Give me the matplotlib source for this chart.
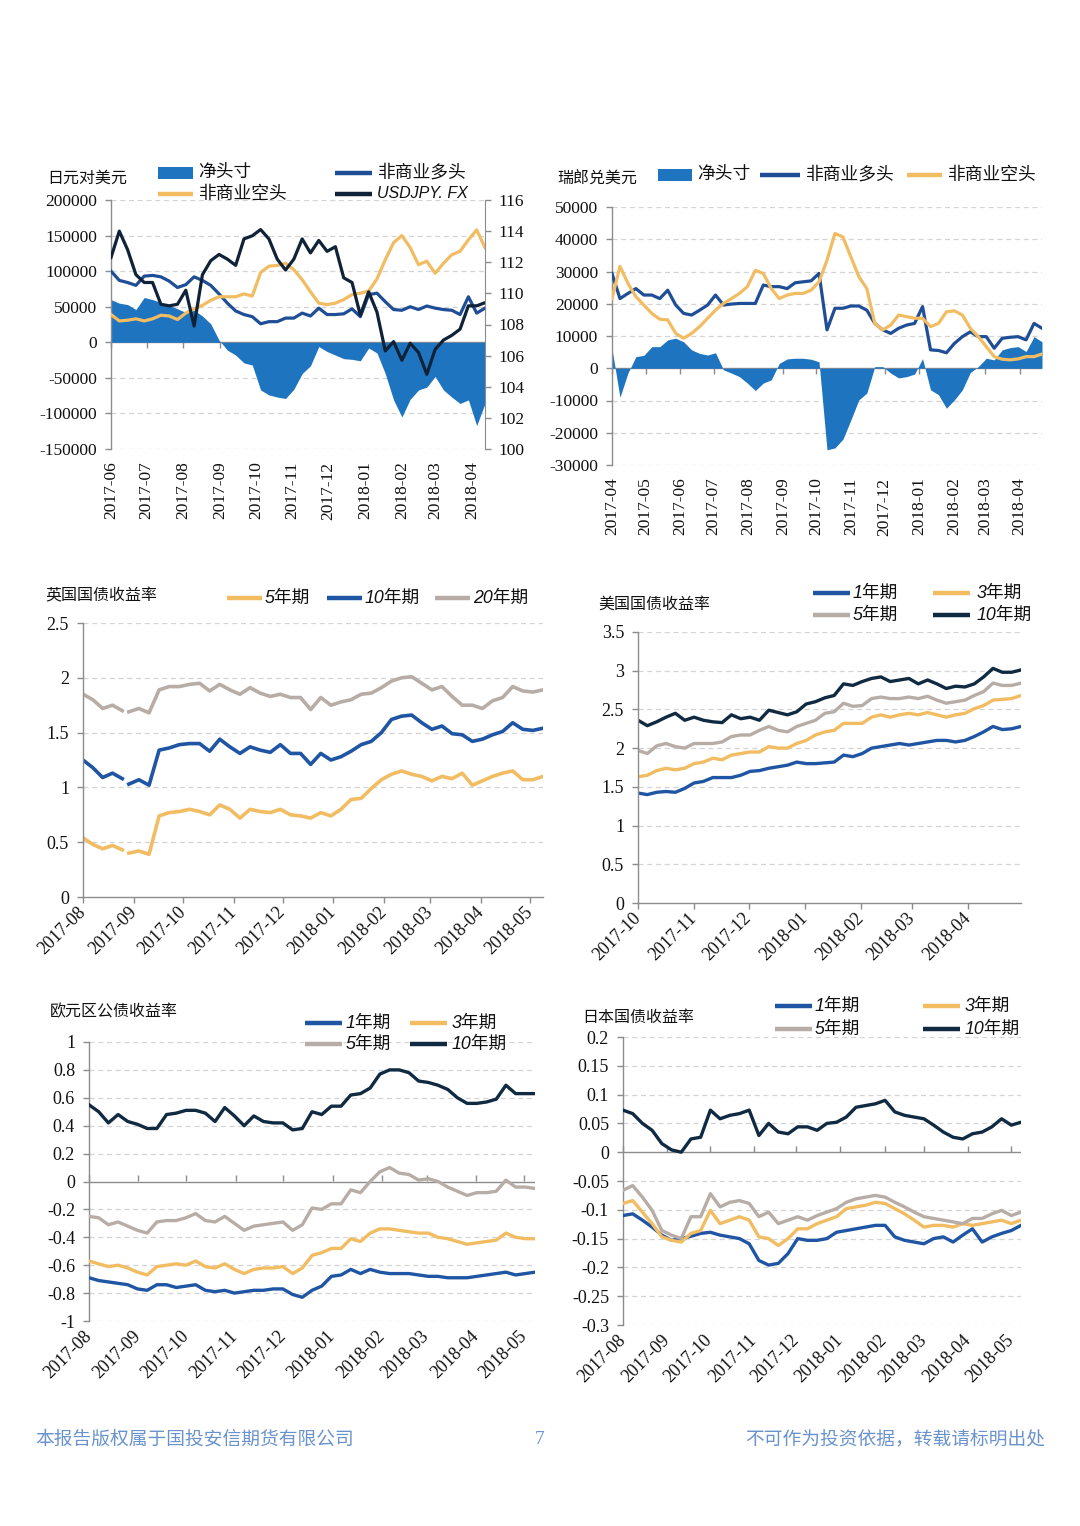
import numpy as np
import pandas as pd
import matplotlib
matplotlib.use('Agg')
import matplotlib.pyplot as plt
import matplotlib.dates as mdates
from matplotlib.lines import Line2D
from matplotlib.patches import Rectangle

nan = np.nan

# ---------------- data ----------------
# 日元对美元 (weekly, CFTC)
jpy_net = [60000, 55000, 53000, 46000, 63000, 60000, 56000, 52000, 47000, 42000,
           45000, 37000, 26000, 3000, -11000, -18000, -29000, -32000, -67000, -74000,
           -77000, -79000, -66000, -44000, -33000, -6000, -13000, -18000, -23000, -24000,
           -26000, -8000, -15000, -44000, -81000, -105000, -80000, -67000, -63000, -48000,
           -67000, -77000, -86000, -81000, -117000, -86000]
jpy_long = [100000, 87000, 84000, 80000, 93000, 94000, 92000, 86000, 77000, 81000,
            92000, 87000, 80000, 68000, 55000, 44000, 39000, 36000, 26000, 29000,
            29000, 34000, 34000, 41000, 37000, 48000, 39000, 39000, 40000, 47000,
            36000, 67000, 69000, 57000, 46000, 45000, 50000, 46000, 51000, 48000,
            46000, 45000, 39000, 64000, 41000, 48000]
jpy_short = [39000, 30000, 31000, 33000, 30000, 33000, 38000, 37000, 32000, 41000,
             47000, 52000, 59000, 64000, 64000, 64000, 68000, 65000, 98000, 107000,
             108000, 111000, 102000, 88000, 71000, 55000, 53000, 55000, 60000, 67000,
             69000, 72000, 89000, 116000, 140000, 150000, 133000, 109000, 114000, 97000,
             111000, 123000, 128000, 144000, 158000, 133000]
usdjpy = [112.3, 114.0, 112.8, 111.2, 110.7, 110.7, 109.3, 109.2, 109.3, 110.2,
          107.9, 111.2, 112.1, 112.5, 112.2, 111.8, 113.5, 113.7, 114.1, 113.5,
          112.2, 111.5, 112.2, 113.5, 112.6, 113.4, 112.7, 113.0, 111.0, 110.7,
          108.6, 110.1, 108.8, 106.3, 106.9, 105.7, 106.8, 106.2, 104.8, 106.4,
          107.0, 107.3, 107.7, 109.2, 109.2, 109.4]

# 瑞郎兑美元 (weekly, CFTC)
chf_net = [6000, -9000, -1500, 3600, 4000, 6700, 6700, 8800, 9300, 8200,
           5700, 4600, 4100, 4800, -500, -1500, -2600, -4600, -6900, -4600,
           -3600, 1500, 2900, 3100, 3100, 2800, 2000, -25300, -24700, -22000,
           -16000, -9800, -7700, 500, 500, -1500, -3000, -2600, -1800, 3000,
           -6700, -8200, -12400, -9800, -6700, -1300, 500, 3100, 2600, 5700,
           6400, 6700, 5200, 9800, 8200]
chf_long = [29400, 21600, 23200, 24700, 22700, 22700, 21600, 24200, 19600, 17000,
            16500, 18000, 19600, 22700, 19600, 19900, 20100, 20100, 20100, 25800,
            25300, 25300, 24700, 26500, 26800, 27100, 29400, 11900, 18600, 18600,
            19300, 19300, 18000, 13900, 11900, 10800, 12400, 13400, 13900, 19100,
            5700, 5500, 4800, 7700, 9800, 11300, 9800, 9800, 6200, 9300,
            9600, 9800, 8800, 13900, 12400]
chf_short = [21600, 31600, 26300, 22200, 19600, 17000, 15200, 15000, 10800, 9300,
             10800, 12900, 15500, 18000, 20100, 21600, 23200, 25300, 30400, 29400,
             24700, 21600, 22700, 23200, 23200, 24200, 26800, 33500, 41800, 40700,
             34500, 28400, 24700, 13900, 11900, 13400, 16500, 16000, 15500, 15500,
             12900, 13900, 17500, 17800, 16500, 12400, 9800, 6700, 3600, 2800,
             2600, 2900, 3600, 3600, 4400]

# 英国国债收益率 (nan = missing day)
uk_5y = [0.54, 0.48, 0.44, 0.47, 0.43, nan,
         0.40, 0.42, 0.39, 0.74, 0.77, 0.78, 0.80, 0.78, 0.75, 0.84,
         0.80, 0.72, 0.80, 0.78, 0.77, 0.80, 0.75, 0.74, 0.72, 0.77,
         0.74, 0.80, 0.89, 0.90, 0.99, 1.07, 1.12, 1.15, 1.12, 1.10,
         1.06, 1.10, 1.08, 1.13, 1.02, 1.06, 1.10, 1.13, 1.15, 1.07,
         1.07, 1.10]
uk_10y = [1.25, 1.18, 1.09, 1.13, 1.08, nan,
          1.03, 1.07, 1.02, 1.34, 1.36, 1.39, 1.40, 1.40, 1.33, 1.44,
          1.37, 1.31, 1.37, 1.34, 1.32, 1.39, 1.31, 1.31, 1.21, 1.31,
          1.25, 1.28, 1.33, 1.39, 1.42, 1.50, 1.62, 1.65, 1.66, 1.59,
          1.53, 1.56, 1.49, 1.48, 1.42, 1.44, 1.48, 1.51, 1.59, 1.53,
          1.52, 1.54]
uk_20y = [1.85, 1.80, 1.72, 1.75, 1.70, nan,
          1.69, 1.72, 1.68, 1.89, 1.92, 1.92, 1.94, 1.95, 1.88, 1.94,
          1.89, 1.85, 1.91, 1.86, 1.83, 1.85, 1.82, 1.82, 1.71, 1.82,
          1.75, 1.78, 1.80, 1.85, 1.86, 1.91, 1.97, 2.00, 2.01, 1.95,
          1.89, 1.92, 1.83, 1.75, 1.75, 1.72, 1.79, 1.82, 1.92, 1.88,
          1.87, 1.89]

# 美国国债收益率
us_1y = [1.42, 1.40, 1.43, 1.44, 1.43, 1.48, 1.55, 1.57, 1.62, 1.62,
         1.62, 1.65, 1.70, 1.71, 1.74, 1.76, 1.78, 1.82, 1.80, 1.80,
         1.81, 1.82, 1.91, 1.89, 1.93, 2.00, 2.02, 2.04, 2.06, 2.04,
         2.06, 2.08, 2.10, 2.10, 2.08, 2.10, 2.15, 2.21, 2.28, 2.24,
         2.25, 2.28]
us_3y = [1.63, 1.65, 1.71, 1.74, 1.72, 1.74, 1.80, 1.82, 1.87, 1.85,
         1.91, 1.93, 1.95, 1.95, 2.02, 2.00, 2.00, 2.06, 2.10, 2.17,
         2.21, 2.23, 2.32, 2.32, 2.32, 2.40, 2.43, 2.40, 2.43, 2.45,
         2.43, 2.46, 2.43, 2.40, 2.43, 2.45, 2.51, 2.55, 2.62, 2.63,
         2.64, 2.68]
us_5y = [1.97, 1.93, 2.03, 2.06, 2.02, 2.00, 2.06, 2.06, 2.06, 2.08,
         2.15, 2.17, 2.17, 2.23, 2.28, 2.23, 2.21, 2.28, 2.32, 2.36,
         2.45, 2.47, 2.58, 2.54, 2.55, 2.64, 2.66, 2.64, 2.64, 2.66,
         2.64, 2.67, 2.62, 2.58, 2.60, 2.62, 2.68, 2.73, 2.84, 2.81,
         2.81, 2.84]
us_10y = [2.36, 2.29, 2.34, 2.40, 2.45, 2.36, 2.40, 2.36, 2.34, 2.33,
          2.43, 2.38, 2.40, 2.36, 2.49, 2.46, 2.43, 2.47, 2.57, 2.60,
          2.65, 2.68, 2.83, 2.81, 2.86, 2.90, 2.92, 2.86, 2.88, 2.90,
          2.83, 2.88, 2.83, 2.77, 2.80, 2.79, 2.83, 2.92, 3.03, 2.98,
          2.98, 3.01]

# 欧元区公债收益率
eu_1y = [-0.69, -0.71, -0.72, -0.73, -0.74, -0.77, -0.78, -0.74, -0.74, -0.76,
         -0.75, -0.74, -0.78, -0.79, -0.78, -0.80, -0.79, -0.78, -0.78, -0.77,
         -0.77, -0.81, -0.83, -0.78, -0.75, -0.68, -0.67, -0.63, -0.66, -0.63,
         -0.65, -0.66, -0.66, -0.66, -0.67, -0.68, -0.68, -0.69, -0.69, -0.69,
         -0.68, -0.67, -0.66, -0.65, -0.67, -0.66, -0.65]
eu_3y = [-0.57, -0.59, -0.61, -0.60, -0.62, -0.65, -0.67, -0.61, -0.60, -0.59,
         -0.60, -0.57, -0.61, -0.62, -0.59, -0.63, -0.66, -0.63, -0.62, -0.62,
         -0.61, -0.66, -0.62, -0.53, -0.51, -0.48, -0.48, -0.41, -0.43, -0.37,
         -0.34, -0.34, -0.35, -0.36, -0.37, -0.37, -0.40, -0.41, -0.43, -0.45,
         -0.44, -0.43, -0.42, -0.37, -0.40, -0.41, -0.41]
eu_5y = [-0.25, -0.26, -0.31, -0.29, -0.32, -0.35, -0.37, -0.29, -0.28, -0.28,
         -0.26, -0.23, -0.28, -0.29, -0.25, -0.30, -0.35, -0.32, -0.31, -0.30,
         -0.29, -0.35, -0.31, -0.19, -0.20, -0.16, -0.16, -0.06, -0.08, 0.00,
         0.07, 0.10, 0.06, 0.05, 0.01, 0.02, 0.00, -0.04, -0.07, -0.10,
         -0.08, -0.08, -0.07, 0.01, -0.04, -0.04, -0.05]
eu_10y = [0.55, 0.50, 0.42, 0.48, 0.43, 0.41, 0.38, 0.38, 0.48, 0.49,
          0.51, 0.51, 0.49, 0.43, 0.53, 0.47, 0.40, 0.47, 0.43, 0.42,
          0.42, 0.37, 0.38, 0.50, 0.48, 0.54, 0.54, 0.62, 0.63, 0.67,
          0.77, 0.80, 0.80, 0.78, 0.72, 0.71, 0.69, 0.66, 0.60, 0.56,
          0.56, 0.57, 0.59, 0.69, 0.63, 0.63, 0.63]

# 日本国债收益率
jp_1y = [-0.110, -0.107, -0.118, -0.130, -0.144, -0.153, -0.150, -0.146, -0.141, -0.139,
         -0.144, -0.147, -0.150, -0.159, -0.188, -0.196, -0.193, -0.176, -0.150, -0.153,
         -0.153, -0.150, -0.139, -0.136, -0.133, -0.130, -0.127, -0.127, -0.147, -0.153,
         -0.156, -0.159, -0.150, -0.147, -0.156, -0.144, -0.133, -0.156, -0.147, -0.141,
         -0.136, -0.127]
jp_3y = [-0.089, -0.084, -0.104, -0.124, -0.147, -0.153, -0.156, -0.141, -0.136, -0.101,
         -0.124, -0.118, -0.112, -0.118, -0.147, -0.150, -0.162, -0.150, -0.133, -0.133,
         -0.124, -0.118, -0.112, -0.098, -0.095, -0.092, -0.087, -0.089, -0.098, -0.107,
         -0.118, -0.130, -0.127, -0.127, -0.130, -0.124, -0.127, -0.124, -0.121, -0.118,
         -0.124, -0.118]
jp_5y = [-0.066, -0.058, -0.078, -0.101, -0.136, -0.144, -0.150, -0.112, -0.112, -0.072,
         -0.095, -0.087, -0.084, -0.089, -0.112, -0.104, -0.124, -0.118, -0.112, -0.118,
         -0.110, -0.104, -0.098, -0.087, -0.081, -0.078, -0.075, -0.078, -0.087, -0.095,
         -0.104, -0.112, -0.115, -0.118, -0.121, -0.124, -0.115, -0.115, -0.107, -0.101,
         -0.110, -0.104]
jp_10y = [0.073, 0.067, 0.050, 0.038, 0.015, 0.004, 0.000, 0.023, 0.026, 0.073,
          0.058, 0.064, 0.067, 0.073, 0.029, 0.050, 0.035, 0.032, 0.044, 0.044,
          0.038, 0.050, 0.052, 0.061, 0.078, 0.081, 0.084, 0.090, 0.070, 0.064,
          0.061, 0.058, 0.047, 0.035, 0.026, 0.023, 0.032, 0.035, 0.044, 0.058,
          0.047, 0.052]

# ---------------- style ----------------
C_NET = '#1F74C0'
C_LONG = '#1F4E96'
C_SHORT = '#F1BC62'
C_FX = '#0F2238'
C_1Y = '#1F55A2'
C_3Y = '#F1BC62'
C_5Y = '#B7ADA6'
C_10Y = '#102A42'
C_AX = '#8C8C8C'
C_GRID = '#D4D4D4'
C_TXT = '#111111'

SERIF = ['Liberation Serif', 'DejaVu Serif']
CJK = ['Noto Sans CJK SC', 'DejaVu Sans']
LEGF = ['Liberation Sans', 'Noto Sans CJK SC', 'DejaVu Sans']

plt.rcParams['font.family'] = SERIF
plt.rcParams['axes.unicode_minus'] = False

W, H = 1080, 1526
fig = plt.figure(figsize=(W / 100, H / 100), dpi=100)
fig.patch.set_facecolor('white')


def rect(x0, y0, x1, y1):
    return [x0 / W, 1 - y1 / H, (x1 - x0) / W, (y1 - y0) / H]


def fx(px):
    return px / W


def fy(py):
    return 1 - py / H


def dnum(idx):
    return mdates.date2num(pd.DatetimeIndex(idx).to_pydatetime())


def fmt(v):
    s = ('%.2f' % v).rstrip('0').rstrip('.')
    if s in ('-0', ''):
        s = '0'
    return s


def setup(ax, ylo, yhi, ystep, x0, x1, tick_dates, rot, fs, zero_ticks=True,
          bottom_spine=False, lpad=6):
    ax.set_xlim(x0, x1)
    ax.set_ylim(ylo, yhi)
    yt = np.round(np.arange(ylo, yhi + ystep / 2, ystep), 6)
    ax.set_yticks(yt)
    ax.set_yticklabels([fmt(v) for v in yt], fontsize=fs, color=C_TXT)
    for v in yt:
        if abs(v) < 1e-9 and (zero_ticks or bottom_spine):
            continue
        ax.axhline(v, color=C_GRID, lw=0.9, ls=(0, (4, 3)), zorder=0.5)
    for s in ('top', 'right'):
        ax.spines[s].set_visible(False)
    ax.spines['left'].set_color(C_AX)
    ax.spines['left'].set_linewidth(1.0)
    ax.tick_params(axis='y', length=4, width=1, color=C_AX, pad=lpad, direction='out')
    tn = dnum(tick_dates)
    ax.set_xticks(tn)
    ax.set_xticklabels([d.strftime('%Y-%m') for d in tick_dates], rotation=rot,
                       ha='right', va='center', rotation_mode='anchor',
                       fontsize=fs, color=C_TXT)
    if bottom_spine:
        ax.spines['bottom'].set_color(C_AX)
        ax.spines['bottom'].set_linewidth(1.0)
        ax.tick_params(axis='x', length=4, width=1, color=C_AX, pad=5)
    else:
        ax.spines['bottom'].set_visible(False)
        ax.tick_params(axis='x', length=0, pad=9)
        if zero_ticks:
            ax.axhline(0, color=C_AX, lw=1.0, zorder=1.5)
            frac = (0 - ylo) / (yhi - ylo)
            sec = ax.secondary_xaxis(frac)
            sec.set_xticks(tn)
            sec.set_xticklabels([''] * len(tn))
            sec.tick_params(length=4, width=1, color=C_AX)
            for s in sec.spines.values():
                s.set_visible(False)


def leg_line(x0, x1, y, color, lw=3.2):
    fig.add_artist(Line2D([fx(x0), fx(x1)], [fy(y), fy(y)], transform=fig.transFigure,
                          color=color, lw=lw, solid_capstyle='butt'))


def leg_patch(x0, x1, y, h, color):
    fig.add_artist(Rectangle((fx(x0), fy(y + h / 2)), (x1 - x0) / W, h / H,
                             transform=fig.transFigure, color=color, lw=0))


def leg_text(x, y, s, fs=12.8):
    fig.text(fx(x), fy(y), s, ha='left', va='center', fontfamily=LEGF, fontstyle='italic',
             fontsize=fs, color=C_TXT)


def title(x, y, s, fs=11.5):
    fig.text(fx(x), fy(y), s, ha='left', va='center', fontfamily=CJK, fontsize=fs,
             color=C_TXT)


# ---------------- panel 1: JPY ----------------
jd = pd.date_range('2017-06-06', periods=len(jpy_net), freq='7D')
jx = dnum(jd)
ax1 = fig.add_axes(rect(111, 200, 485, 449))
setup(ax1, -150000, 200000, 50000, jx[0], jx[-1],
      pd.date_range('2017-06-06', '2018-04-06', freq=pd.DateOffset(months=1)), 90, 12.5)
ax1.fill_between(jx, 0, jpy_net, color=C_NET, lw=0, zorder=2)
ax1.plot(jx, jpy_long, color=C_LONG, lw=2.3, zorder=3)
ax1.plot(jx, jpy_short, color=C_SHORT, lw=2.3, zorder=3)
ax1r = ax1.twinx()
ax1r.set_xlim(jx[0], jx[-1])
ax1r.set_ylim(100, 116)
ax1r.set_yticks(np.arange(100, 117, 2))
ax1r.set_yticklabels([str(v) for v in range(100, 117, 2)], fontsize=12.5, color=C_TXT)
for s in ('top', 'left', 'bottom'):
    ax1r.spines[s].set_visible(False)
ax1r.spines['right'].set_color(C_AX)
ax1r.tick_params(axis='y', length=4, width=1, color=C_AX, pad=6)
ax1r.plot(jx, usdjpy, color=C_FX, lw=2.3)

title(47, 178, '日元对美元')
leg_patch(158, 193, 173, 11, C_NET)
leg_text(198, 173, '净头寸')
leg_line(335, 372, 173, C_LONG)
leg_text(377, 173, '非商业多头')
leg_line(158, 193, 194, C_SHORT)
leg_text(198, 194, '非商业空头')
leg_line(335, 372, 194, C_FX)
leg_text(377, 194, 'USDJPY. FX', fs=11.5)

# ---------------- panel 2: CHF ----------------
cd = pd.date_range('2017-04-04', '2018-04-24', periods=len(chf_net))
cx = dnum(cd)
ax2 = fig.add_axes(rect(612, 207, 1042, 465))
setup(ax2, -30000, 50000, 10000, cx[0], cx[-1],
      pd.date_range('2017-04-04', '2018-04-04', freq=pd.DateOffset(months=1)), 90, 12.5)
ax2.fill_between(cx, 0, chf_net, color=C_NET, lw=0, zorder=2)
ax2.plot(cx, chf_long, color=C_LONG, lw=2.3, zorder=3)
ax2.plot(cx, chf_short, color=C_SHORT, lw=2.3, zorder=3.1)

title(557, 178, '瑞郎兑美元')
leg_patch(658, 692, 175, 11, C_NET)
leg_text(697, 175, '净头寸')
leg_line(760, 800, 175, C_LONG)
leg_text(805, 175, '非商业多头')
leg_line(907, 942, 175, C_SHORT)
leg_text(947, 175, '非商业空头')

# ---------------- panel 3: UK ----------------
ud = pd.date_range('2017-08-01', '2017-08-25', periods=5).append(
    pd.DatetimeIndex(['2017-08-27'])).append(
    pd.date_range('2017-08-29', '2018-05-09', periods=len(uk_5y) - 6))
ux = dnum(ud)
ax3 = fig.add_axes(rect(83, 623, 543, 897))
setup(ax3, 0, 2.5, 0.5, dnum(['2017-08-01'])[0], dnum(['2018-05-09'])[0],
      pd.date_range('2017-08-01', '2018-05-01', freq='MS'), 45, 13, bottom_spine=True)
ax3.plot(ux, uk_5y, color=C_3Y, lw=2.6)
ax3.plot(ux, uk_10y, color=C_1Y, lw=2.6)
ax3.plot(ux, uk_20y, color=C_5Y, lw=2.6)

title(45, 596, '英国国债收益率')
leg_line(227, 262, 598, C_3Y)
leg_text(265, 598, '5年期')
leg_line(327, 362, 598, C_1Y)
leg_text(365, 598, '10年期')
leg_line(435, 470, 598, C_5Y)
leg_text(473, 598, '20年期')

# ---------------- panel 4: US ----------------
usd = pd.date_range('2017-10-01', '2018-04-30', periods=len(us_1y))
usx = dnum(usd)
ax4 = fig.add_axes(rect(638, 632, 1021, 903))
setup(ax4, 0, 3.5, 0.5, usx[0], usx[-1],
      pd.date_range('2017-10-01', '2018-04-01', freq='MS'), 45, 13, bottom_spine=True)
ax4.plot(usx, us_1y, color=C_1Y, lw=2.4)
ax4.plot(usx, us_3y, color=C_3Y, lw=2.4)
ax4.plot(usx, us_5y, color=C_5Y, lw=2.4)
ax4.plot(usx, us_10y, color=C_10Y, lw=2.4)

title(598, 604, '美国国债收益率')
leg_line(813, 850, 593, C_1Y)
leg_text(853, 593, '1年期')
leg_line(933, 970, 593, C_3Y)
leg_text(977, 593, '3年期')
leg_line(813, 850, 615, C_5Y)
leg_text(853, 615, '5年期')
leg_line(933, 970, 615, C_10Y)
leg_text(977, 615, '10年期')

# ---------------- panel 5: EUR ----------------
ed = pd.date_range('2017-08-01', '2018-05-08', periods=len(eu_1y))
ex = dnum(ed)
ax5 = fig.add_axes(rect(89, 1042, 535, 1321))
setup(ax5, -1, 1, 0.2, ex[0], ex[-1],
      pd.date_range('2017-08-01', '2018-05-01', freq='MS'), 45, 13)
ax5.plot(ex, eu_1y, color=C_1Y, lw=2.4, zorder=3)
ax5.plot(ex, eu_3y, color=C_3Y, lw=2.4, zorder=3)
ax5.plot(ex, eu_5y, color=C_5Y, lw=2.4, zorder=3)
ax5.plot(ex, eu_10y, color=C_10Y, lw=2.4, zorder=3)

title(50, 1012, '欧元区公债收益率')
leg_line(305, 342, 1023, C_1Y)
leg_text(346, 1023, '1年期')
leg_line(410, 447, 1023, C_3Y)
leg_text(452, 1023, '3年期')
leg_line(305, 342, 1044, C_5Y)
leg_text(346, 1044, '5年期')
leg_line(410, 447, 1044, C_10Y)
leg_text(452, 1044, '10年期')

# ---------------- panel 6: JP ----------------
jpd = pd.date_range('2017-08-01', '2018-05-08', periods=len(jp_1y))
jpx = dnum(jpd)
ax6 = fig.add_axes(rect(623, 1037, 1021, 1325))
setup(ax6, -0.3, 0.2, 0.05, jpx[0], jpx[-1],
      pd.date_range('2017-08-01', '2018-05-01', freq='MS'), 45, 13)
ax6.plot(jpx, jp_1y, color=C_1Y, lw=2.4, zorder=3)
ax6.plot(jpx, jp_3y, color=C_3Y, lw=2.4, zorder=3)
ax6.plot(jpx, jp_5y, color=C_5Y, lw=2.4, zorder=3)
ax6.plot(jpx, jp_10y, color=C_10Y, lw=2.4, zorder=3)

title(582, 1017, '日本国债收益率')
leg_line(775, 812, 1006, C_1Y)
leg_text(815, 1006, '1年期')
leg_line(923, 960, 1006, C_3Y)
leg_text(965, 1006, '3年期')
leg_line(775, 812, 1029, C_5Y)
leg_text(815, 1029, '5年期')
leg_line(923, 960, 1029, C_10Y)
leg_text(965, 1029, '10年期')

# ---------------- footer ----------------
FOOT = '#6A93CC'
fig.text(fx(35), fy(1439), '本报告版权属于国投安信期货有限公司', ha='left', va='center',
         fontfamily=CJK, fontsize=13.5, color=FOOT)
fig.text(fx(540), fy(1439), '7', ha='center', va='center', fontsize=14, color=FOOT)
fig.text(fx(1045), fy(1439), '不可作为投资依据，转载请标明出处', ha='right', va='center',
         fontfamily=CJK, fontsize=13.5, color=FOOT)

fig.savefig('out.png', dpi=100, facecolor='white')
